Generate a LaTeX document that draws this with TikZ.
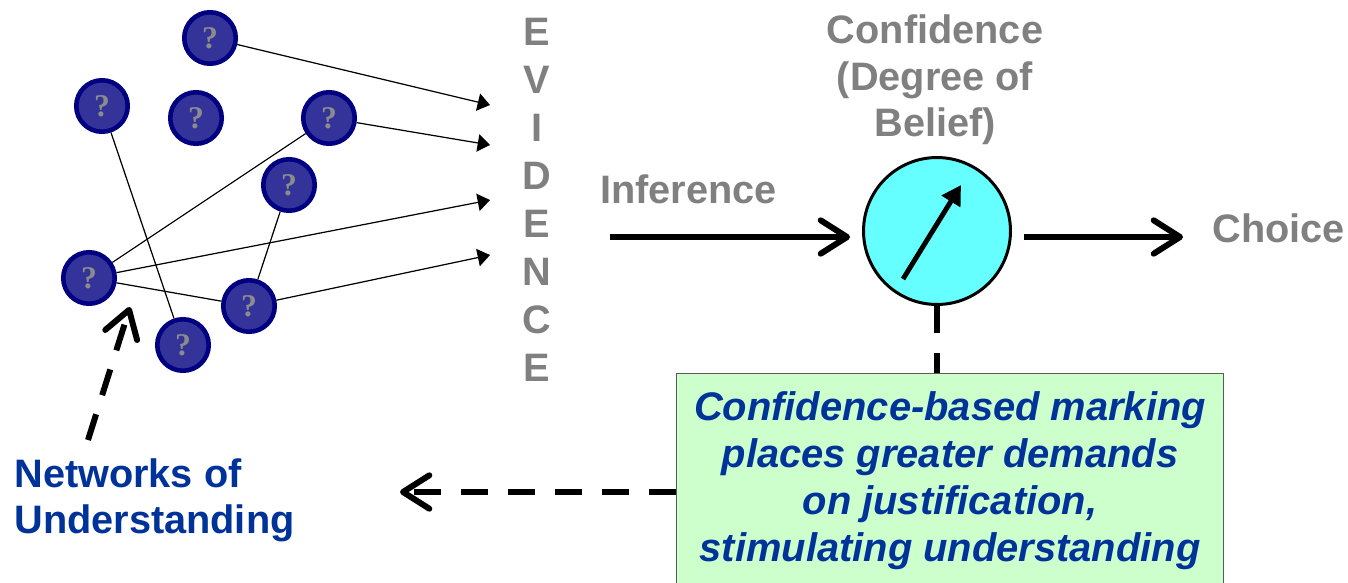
\documentclass[tikz,border=0pt]{standalone}
\usepackage{fontspec}
\setmainfont{Liberation Sans}
\newfontfamily\qfont{Liberation Serif}
\usepackage{xcolor}
\usetikzlibrary{positioning,arrows.meta}

\definecolor{ballfill}{RGB}{51,51,153}
\definecolor{ballline}{RGB}{0,0,128}
\definecolor{qgray}{RGB}{140,140,140}
\definecolor{textgray}{RGB}{128,128,128}
\definecolor{darkblue}{RGB}{0,51,153}
\definecolor{dialcyan}{RGB}{102,255,255}
\definecolor{boxgreen}{RGB}{204,255,204}
\definecolor{boxline}{RGB}{90,90,90}

\begin{document}
\begin{tikzpicture}[x=0.02cm,y=-0.02cm,
  ball/.style={circle,draw=ballline,fill=ballfill,line width=2.6pt,minimum size=1.03cm,inner sep=0pt,
    text=qgray,font=\qfont\bfseries\fontsize{18}{18}\selectfont},
  linkarrow/.style={line width=0.7pt,-{Triangle[length=7pt,width=10pt]}},
  bigarrow/.style={line width=3.4pt,-{Straight Barb[length=15pt,width=19pt,round]}},
  dashline/.style={line width=3.4pt,dash pattern=on 0.54cm off 0.4cm},
  dasharrow/.style={bigarrow,dash pattern=on 0.54cm off 0.4cm},
  greytext/.style={text=textgray,inner sep=0pt,font=\bfseries\fontsize{22.6}{26.7}\selectfont},
  bluetext/.style={text=darkblue,inner sep=0pt,font=\bfseries\fontsize{22.6}{26.2}\selectfont},
  dial/.style={circle,draw,line width=1.7pt,fill=dialcyan,minimum size=2.94cm,inner sep=0pt},
  needle/.style={line width=2.8pt,-{Triangle[length=11pt,width=12pt]}},
  notebox/.style={draw=boxline,line width=0.6pt,fill=boxgreen,text=darkblue,align=center,
    minimum width=10.96cm,inner ysep=0.37cm,font=\bfseries\itshape\fontsize{22.7}{26.65}\selectfont}]
\useasboundingbox (0,0) rectangle (1348,582);

\node[ball] (q1) at (210,38) {?};
\node[ball] (q2) at (102,106) {?};
\node[ball] (q3) at (196,118) {?};
\node[ball] (q4) at (329,118) {?};
\node[ball] (q5) at (289,185) {?};
\node[ball] (q6) at (89,278) {?};
\node[ball] (q7) at (249,306) {?};
\node[ball] (q8) at (183,345) {?};

\coordinate (evA) at (490,105);
\coordinate (evB) at (490,145);
\coordinate (evC) at (490,200);
\coordinate (evD) at (490,255);

\draw[line width=0.7pt] (q2) -- (q8);
\draw[line width=0.7pt] (q6) -- (q4);
\draw[line width=0.7pt] (q6) -- (q7);
\draw[line width=0.7pt] (q5) -- (q7);
\draw[linkarrow] (q1) -- (evA);
\draw[linkarrow] (q4) -- (evB);
\draw[linkarrow] (q6) -- (evC);
\draw[linkarrow] (q7) -- (evD);

\foreach \ch [count=\k from 0] in {E,V,I,D,E,N,C,E}
  \node[greytext,anchor=base] (ev\k) at (537,{45+48*\k}) {\ch};

\node[greytext,anchor=base west] (infer) at (600,203) {Inference};
\node[greytext,anchor=base west] (choice) at (1212,242) {Choice};
\node[greytext,align=center,anchor=north] (conf) at (935,14) {Confidence\\(Degree of\\Belief)};

\node[dial] (dial) at (937,231) {};
\draw[needle] ([shift={(-34,48)}]dial.center) -- ([shift={(24,-46)}]dial.center);

\coordinate (infL) at (610,237);
\draw[bigarrow,shorten >=0.24cm] (infL) -- (dial.west |- infL);
\draw[bigarrow,shorten <=0.24cm,shorten >=0.58cm] (dial.east |- infL) -- (choice.west |- infL);

\node[notebox,anchor=north] (note) at (950,373) {Confidence-based marking\\places greater demands\\on justification,\\stimulating understanding};
\draw[dashline] (dial.south) -- (note.north -| dial.south);

\coordinate (backtip) at (400,492);
\draw[dasharrow] (note.west |- backtip) -- (backtip);

\node[bluetext,align=left,anchor=north west] (netlabel) at (14,458) {Networks of\\Understanding};
\coordinate (netfoot) at (88,440);
\coordinate (nettip) at (130,307);
\draw[dasharrow] (netfoot) -- (nettip);
\end{tikzpicture}
\end{document}
